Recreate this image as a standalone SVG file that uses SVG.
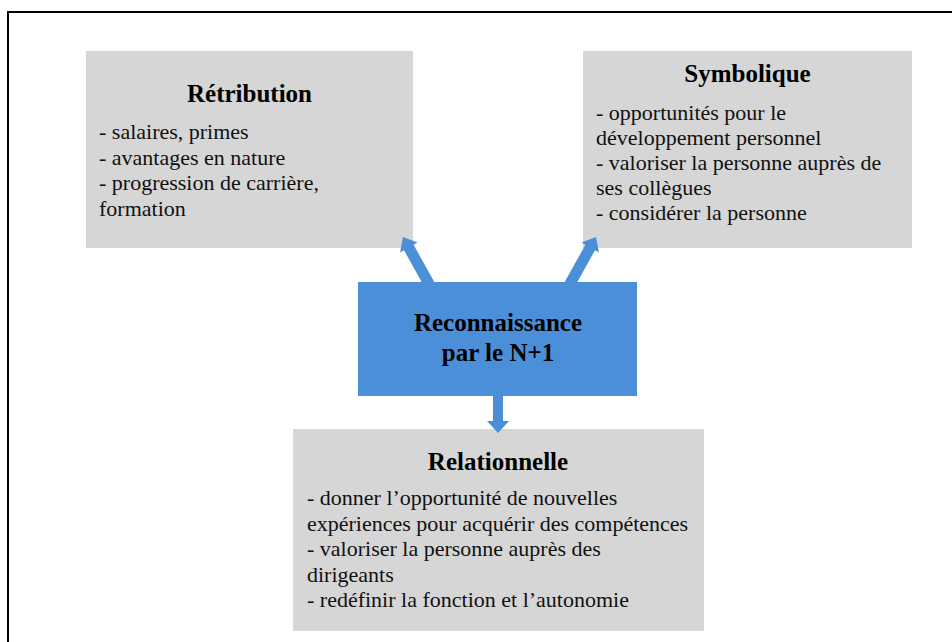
<svg xmlns="http://www.w3.org/2000/svg" width="952" height="642" viewBox="0 0 952 642">
<style>
.box{fill:#d6d6d6}
.center{fill:#4a8fd8}
.arrow{fill:#4a8fd8}
.title{font-family:"Liberation Serif","Times New Roman",serif;font-weight:bold;font-size:25px;fill:#000;text-anchor:middle}
.body{font-family:"Liberation Serif","Times New Roman",serif;font-size:22px;fill:#111}
</style>
<rect width="952" height="642" fill="#fff"/>
<path d="M8,642 V12 H952" fill="none" stroke="#000" stroke-width="2"/>
<g id="retribution">
<rect class="box" x="86" y="51" width="327" height="197"/>
<text class="title" x="249.5" y="102">Rétribution</text>
<text class="body" x="99" y="139">- salaires, primes</text>
<text class="body" x="99" y="165">- avantages en nature</text>
<text class="body" x="99" y="190">- progression de carrière,</text>
<text class="body" x="99" y="216">formation</text>
</g>
<g id="symbolique">
<rect class="box" x="583" y="51" width="329" height="197"/>
<text class="title" x="747.5" y="82">Symbolique</text>
<text class="body" x="596" y="120">- opportunités pour le</text>
<text class="body" x="596" y="145">développement personnel</text>
<text class="body" x="596" y="170">- valoriser la personne auprès de</text>
<text class="body" x="596" y="195">ses collègues</text>
<text class="body" x="596" y="220">- considérer la personne</text>
</g>
<g id="relationnelle">
<rect class="box" x="293" y="429" width="411" height="202"/>
<text class="title" x="498" y="470">Relationnelle</text>
<text class="body" x="307" y="505">- donner l’opportunité de nouvelles</text>
<text class="body" x="307" y="531">expériences pour acquérir des compétences</text>
<text class="body" x="307" y="556">- valoriser la personne auprès des</text>
<text class="body" x="307" y="582">dirigeants</text>
<text class="body" x="307" y="607">- redéfinir la fonction et l’autonomie</text>
</g>
<g id="connectors">
<polygon class="arrow" points="427.1,291.7 404.0,250.2 400.1,252.4 403,237 417.5,242.6 413.6,244.8 436.7,286.3"/>
<polygon class="arrow" points="571.9,291.7 595.0,250.2 598.9,252.4 596,237 581.5,242.6 585.4,244.8 562.3,286.3"/>
<polygon class="arrow" points="493,390 493,421 487,421 498,433 509,421 503,421 503,390"/>
</g>
<g id="reconnaissance">
<rect class="center" x="358" y="282" width="279" height="114"/>
<text class="title" x="498" y="331">Reconnaissance</text>
<text class="title" x="498" y="361">par le N+1</text>
</g>
</svg>
